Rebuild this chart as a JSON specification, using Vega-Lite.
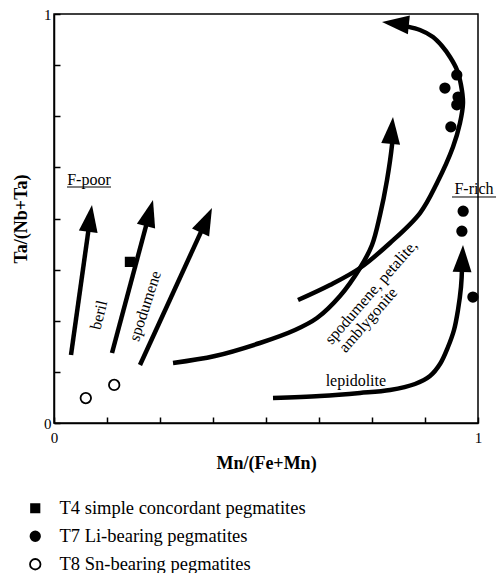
{
  "$schema": "https://vega.github.io/schema/vega-lite/v6.json",
  "autosize": "none",
  "width": 424,
  "height": 409,
  "padding": {"left": 54, "top": 14, "right": 25, "bottom": 150},
  "background": "white",
  "config": {
    "view": {"stroke": "black", "strokeWidth": 1.5},
    "axis": {
      "domainColor": "black", "domainWidth": 1.5, "tickColor": "black", "tickWidth": 1.5,
      "grid": false, "labelFont": "Liberation Serif", "labelFontSize": 15, "labelColor": "black",
      "titleFont": "Liberation Serif", "titleFontSize": 18, "titleFontWeight": "bold", "titleColor": "black"
    }
  },
  "datasets": {
    "curves": [
      {"curve": "a1", "i": 0, "x": 0.0401, "y": 0.1663},
      {"curve": "a1", "i": 1, "x": 0.0847, "y": 0.4968},
      {"curve": "a2", "i": 0, "x": 0.1368, "y": 0.1711},
      {"curve": "a2", "i": 1, "x": 0.2243, "y": 0.5098},
      {"curve": "a3", "i": 0, "x": 0.2028, "y": 0.1418},
      {"curve": "a3", "i": 1, "x": 0.3578, "y": 0.4924},
      {"curve": "spod", "i": 0, "x": 0.2807, "y": 0.1467},
      {"curve": "spod", "i": 1, "x": 0.3797, "y": 0.1638},
      {"curve": "spod", "i": 2, "x": 0.4858, "y": 0.1956},
      {"curve": "spod", "i": 3, "x": 0.5684, "y": 0.2274},
      {"curve": "spod", "i": 4, "x": 0.6203, "y": 0.2567},
      {"curve": "spod", "i": 5, "x": 0.6745, "y": 0.3105},
      {"curve": "spod", "i": 6, "x": 0.7217, "y": 0.379},
      {"curve": "spod", "i": 7, "x": 0.75, "y": 0.4352},
      {"curve": "spod", "i": 8, "x": 0.7689, "y": 0.5086},
      {"curve": "spod", "i": 9, "x": 0.7854, "y": 0.5941},
      {"curve": "spod", "i": 10, "x": 0.7972, "y": 0.6797},
      {"curve": "spod", "i": 11, "x": 0.7995, "y": 0.7115},
      {"curve": "loop", "i": 0, "x": 0.5755, "y": 0.3007},
      {"curve": "loop", "i": 1, "x": 0.6509, "y": 0.3374},
      {"curve": "loop", "i": 2, "x": 0.7217, "y": 0.379},
      {"curve": "loop", "i": 3, "x": 0.7925, "y": 0.4401},
      {"curve": "loop", "i": 4, "x": 0.8632, "y": 0.5134},
      {"curve": "loop", "i": 5, "x": 0.9033, "y": 0.5868},
      {"curve": "loop", "i": 6, "x": 0.941, "y": 0.6748},
      {"curve": "loop", "i": 7, "x": 0.9575, "y": 0.7335},
      {"curve": "loop", "i": 8, "x": 0.9646, "y": 0.7824},
      {"curve": "loop", "i": 9, "x": 0.9599, "y": 0.8264},
      {"curve": "loop", "i": 10, "x": 0.9505, "y": 0.8631},
      {"curve": "loop", "i": 11, "x": 0.934, "y": 0.8949},
      {"curve": "loop", "i": 12, "x": 0.9151, "y": 0.9218},
      {"curve": "loop", "i": 13, "x": 0.8939, "y": 0.9438},
      {"curve": "loop", "i": 14, "x": 0.8632, "y": 0.9609},
      {"curve": "loop", "i": 15, "x": 0.8278, "y": 0.9707},
      {"curve": "loop", "i": 16, "x": 0.8042, "y": 0.9756},
      {"curve": "lepi", "i": 0, "x": 0.5165, "y": 0.0611},
      {"curve": "lepi", "i": 1, "x": 0.6274, "y": 0.066},
      {"curve": "lepi", "i": 2, "x": 0.7217, "y": 0.0733},
      {"curve": "lepi", "i": 3, "x": 0.7925, "y": 0.0807},
      {"curve": "lepi", "i": 4, "x": 0.8514, "y": 0.0954},
      {"curve": "lepi", "i": 5, "x": 0.8868, "y": 0.1149},
      {"curve": "lepi", "i": 6, "x": 0.9104, "y": 0.1443},
      {"curve": "lepi", "i": 7, "x": 0.9292, "y": 0.1858},
      {"curve": "lepi", "i": 8, "x": 0.9434, "y": 0.2274},
      {"curve": "lepi", "i": 9, "x": 0.9528, "y": 0.2763},
      {"curve": "lepi", "i": 10, "x": 0.9599, "y": 0.3325},
      {"curve": "lepi", "i": 11, "x": 0.9623, "y": 0.379},
      {"curve": "lepi", "i": 12, "x": 0.9623, "y": 0.4034}
    ],
    "heads": [
      {"x": 0.0896, "y": 0.533, "angle": 8},
      {"x": 0.2335, "y": 0.545, "angle": 15},
      {"x": 0.3726, "y": 0.5257, "angle": 25},
      {"x": 0.7995, "y": 0.7482, "angle": 5},
      {"x": 0.7736, "y": 0.9804, "angle": -84},
      {"x": 0.9646, "y": 0.4352, "angle": 2}
    ],
    "points": [
      {"type": "T4 simple concordant pegmatites", "x": 0.179, "y": 0.394},
      {"type": "T7 Li-bearing pegmatites", "x": 0.95, "y": 0.851},
      {"type": "T7 Li-bearing pegmatites", "x": 0.922, "y": 0.819},
      {"type": "T7 Li-bearing pegmatites", "x": 0.953, "y": 0.797},
      {"type": "T7 Li-bearing pegmatites", "x": 0.95, "y": 0.778},
      {"type": "T7 Li-bearing pegmatites", "x": 0.936, "y": 0.724},
      {"type": "T7 Li-bearing pegmatites", "x": 0.965, "y": 0.518},
      {"type": "T7 Li-bearing pegmatites", "x": 0.962, "y": 0.469},
      {"type": "T7 Li-bearing pegmatites", "x": 0.988, "y": 0.308},
      {"type": "T8 Sn-bearing pegmatites", "x": 0.075, "y": 0.061},
      {"type": "T8 Sn-bearing pegmatites", "x": 0.142, "y": 0.093}
    ],
    "labels": [
      {"text": "F-poor", "x": 0.0825, "y": 0.594, "angle": 0},
      {"text": "F-rich", "x": 0.9906, "y": 0.573, "angle": 0},
      {"text": "lepidolite", "x": 0.712, "y": 0.1015, "angle": 0},
      {"text": "beril", "x": 0.106, "y": 0.264, "angle": -76},
      {"text": "spodumene", "x": 0.215, "y": 0.286, "angle": -72},
      {"text": "spodumene, petalite,", "x": 0.748, "y": 0.32, "angle": -49},
      {"text": "amblygonite", "x": 0.741, "y": 0.252, "angle": -49}
    ],
    "underlines": [
      {"x": 0.0307, "x2": 0.1344, "y": 0.577},
      {"x": 0.9387, "x2": 1.0425, "y": 0.5526}
    ]
  },
  "layer": [
    {
      "data": {"name": "curves"},
      "mark": {"type": "line", "interpolate": "catmull-rom", "stroke": "black", "strokeWidth": 4.5, "strokeCap": "butt"},
      "encoding": {
        "x": {"field": "x", "type": "quantitative", "scale": {"domain": [0, 1], "nice": false, "zero": false},
          "axis": {"title": "Mn/(Fe+Mn)", "values": [0, 0.125, 0.25, 0.375, 0.5, 0.625, 0.75, 0.875, 1], "tickSize": -6, "labelFlush": false,
            "labelExpr": "datum.value == 0 ? '0' : (datum.value == 1 ? '1' : '')", "labelPadding": 13, "titlePadding": 9}},
        "y": {"field": "y", "type": "quantitative", "scale": {"domain": [0, 1], "nice": false, "zero": false},
          "axis": {"title": "Ta/(Nb+Ta)", "values": [0, 0.125, 0.25, 0.375, 0.5, 0.625, 0.75, 0.875, 1], "tickSize": -6,
            "labelExpr": "datum.value == 0 ? '0' : (datum.value == 1 ? '1' : '')", "labelPadding": 9, "titlePadding": 13}},
        "detail": {"field": "curve"},
        "order": {"field": "i", "type": "quantitative"}
      }
    },
    {
      "data": {"name": "heads"},
      "mark": {"type": "point", "shape": "M0,0L0.7,2L-0.7,2Z", "size": 729, "filled": true, "fill": "black", "stroke": null, "opacity": 1},
      "encoding": {
        "x": {"field": "x", "type": "quantitative"},
        "y": {"field": "y", "type": "quantitative"},
        "angle": {"field": "angle", "type": "quantitative", "scale": null}
      }
    },
    {
      "data": {"name": "points"},
      "mark": {"type": "point", "stroke": "black", "strokeWidth": 1.8, "opacity": 1},
      "encoding": {
        "x": {"field": "x", "type": "quantitative"},
        "y": {"field": "y", "type": "quantitative"},
        "shape": {"field": "type", "type": "nominal", "scale": {"domain": ["T4 simple concordant pegmatites", "T7 Li-bearing pegmatites", "T8 Sn-bearing pegmatites"], "range": ["square", "circle", "circle"]},
          "legend": {"orient": "none", "legendX": -28, "legendY": 485, "title": null, "padding": 0, "labelFont": "Liberation Serif", "labelFontSize": 18.5, "labelColor": "black", "labelOffset": 15, "rowPadding": 9, "symbolStrokeColor": "black", "symbolStrokeWidth": 1.8, "labelLimit": 400}},
        "fill": {"field": "type", "type": "nominal", "scale": {"domain": ["T4 simple concordant pegmatites", "T7 Li-bearing pegmatites", "T8 Sn-bearing pegmatites"], "range": ["black", "black", "white"]}},
        "size": {"field": "type", "type": "nominal", "scale": {"domain": ["T4 simple concordant pegmatites", "T7 Li-bearing pegmatites", "T8 Sn-bearing pegmatites"], "range": [70, 110, 80]}}
      }
    },
    {
      "data": {"name": "labels"},
      "mark": {"type": "text", "font": "Liberation Serif", "fontSize": 16, "align": "center", "baseline": "middle", "color": "black"},
      "encoding": {
        "x": {"field": "x", "type": "quantitative"},
        "y": {"field": "y", "type": "quantitative"},
        "text": {"field": "text"},
        "angle": {"field": "angle", "type": "quantitative", "scale": null}
      }
    },
    {
      "data": {"name": "underlines"},
      "mark": {"type": "rule", "stroke": "black", "strokeWidth": 1},
      "encoding": {
        "x": {"field": "x", "type": "quantitative"},
        "x2": {"field": "x2"},
        "y": {"field": "y", "type": "quantitative"}
      }
    }
  ]
}
